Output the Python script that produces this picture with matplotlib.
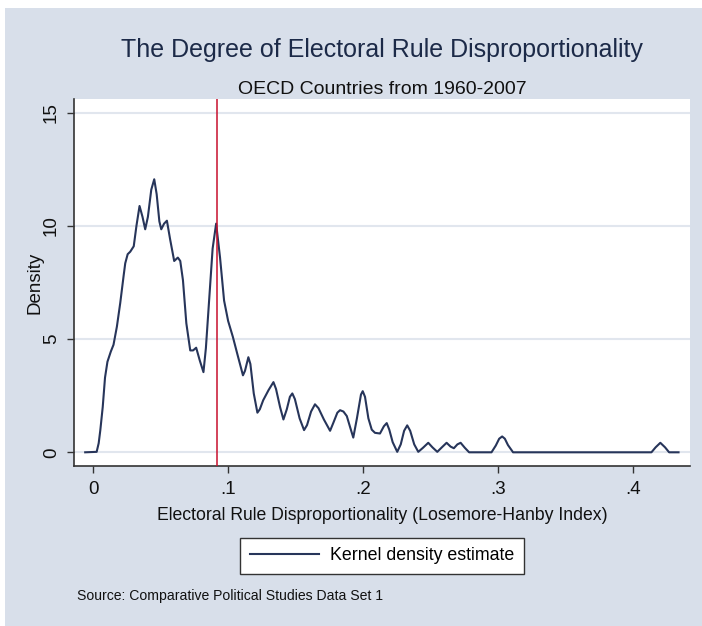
import numpy as np
import matplotlib.pyplot as plt
from matplotlib import font_manager
from matplotlib.patches import Rectangle

plt.rcParams['font.family'] = ['Liberation Sans', 'DejaVu Sans']

# kernel density of the Losemore-Hanby index
lh_index = [-0.0060, 0.0025, 0.0040, 0.0052, 0.0070, 0.0087, 0.0105, 0.0130,
            0.0150, 0.0175, 0.0200, 0.0225, 0.0237, 0.0255, 0.0274, 0.0300,
            0.0320, 0.0343, 0.0365, 0.0385, 0.0405, 0.0430, 0.0452, 0.0470,
            0.0490, 0.0504, 0.0525, 0.0546, 0.0570, 0.0600, 0.0627, 0.0645,
            0.0665, 0.0690, 0.0719, 0.0740, 0.0763, 0.0790, 0.0817, 0.0835,
            0.0860, 0.0885, 0.0911, 0.0940, 0.0970, 0.1000, 0.1035, 0.1070,
            0.1110, 0.1125, 0.1150, 0.1165, 0.1190, 0.1217, 0.1235, 0.1260,
            0.1300, 0.1336, 0.1355, 0.1385, 0.1410, 0.1435, 0.1458, 0.1476,
            0.1495, 0.1530, 0.1563, 0.1585, 0.1615, 0.1644, 0.1670, 0.1710,
            0.1756, 0.1780, 0.1810, 0.1830, 0.1855, 0.1880, 0.1905, 0.1928,
            0.1955, 0.1985, 0.1998, 0.2015, 0.2040, 0.2065, 0.2089, 0.2126,
            0.2155, 0.2176, 0.2195, 0.2220, 0.2254, 0.2280, 0.2305, 0.2328,
            0.2350, 0.2380, 0.2410, 0.2445, 0.2484, 0.2515, 0.2551, 0.2585,
            0.2620, 0.2650, 0.2674, 0.2700, 0.2724, 0.2755, 0.2787, 0.2953,
            0.2985, 0.3010, 0.3032, 0.3052, 0.3075, 0.3113, 0.4139, 0.4170,
            0.4205, 0.4240, 0.4270, 0.4340]
density = [0.00, 0.02, 0.40, 0.97, 2.00, 3.30, 4.00, 4.45,
           4.75, 5.55, 6.60, 7.80, 8.35, 8.75, 8.86, 9.10,
           10.00, 10.88, 10.40, 9.85, 10.40, 11.60, 12.06, 11.40,
           10.20, 9.85, 10.10, 10.23, 9.40, 8.45, 8.60, 8.45,
           7.60, 5.70, 4.50, 4.50, 4.62, 4.05, 3.54, 4.60,
           6.80, 9.00, 10.10, 8.60, 6.70, 5.80, 5.10, 4.30,
           3.40, 3.60, 4.20, 3.90, 2.60, 1.75, 1.90, 2.30,
           2.75, 3.10, 2.80, 2.00, 1.45, 1.90, 2.45, 2.60,
           2.35, 1.50, 0.98, 1.20, 1.80, 2.12, 1.95, 1.45,
           0.95, 1.30, 1.75, 1.86, 1.80, 1.60, 1.10, 0.65,
           1.50, 2.55, 2.70, 2.45, 1.50, 1.00, 0.86, 0.83,
           1.15, 1.29, 1.00, 0.45, 0.02, 0.35, 0.95, 1.19,
           0.95, 0.35, 0.02, 0.20, 0.42, 0.22, 0.02, 0.22,
           0.42, 0.25, 0.18, 0.35, 0.42, 0.20, 0.00, 0.00,
           0.30, 0.60, 0.70, 0.60, 0.32, 0.00, 0.00, 0.22,
           0.42, 0.22, 0.00, 0.00]

mean_lh = 0.092

x_ticks = [0, 0.1, 0.2, 0.3, 0.4]
x_ticklabels = ['0', '.1', '.2', '.3', '.4']
y_ticks = [0, 5, 10, 15]

# condensed face for the title when it is installed
narrow = 'Liberation Sans Narrow'
have_narrow = any(f.name == narrow for f in font_manager.fontManager.ttflist)
title_font = dict(family=[narrow, 'Liberation Sans'], fontsize=22) if have_narrow \
    else dict(fontsize=18)

W, H = 702, 626
fig = plt.figure(figsize=(W / 100, H / 100), dpi=100)
fig.patch.set_facecolor('white')
fig.add_artist(Rectangle((5 / W, 0), 1, 1 - 8 / H, transform=fig.transFigure,
                         facecolor='#d8dfea', edgecolor='none', zorder=-5))

ax = fig.add_axes([74 / W, 160 / H, 616 / W, 367 / H])
ax.set_facecolor('white')

ax.plot(lh_index, density, color='#27355a', lw=1.5, label='Kernel density estimate',
        solid_joinstyle='round', zorder=3)
ax.axvline(mean_lh, color='#c8102e', lw=1.1, zorder=4)

ax.set_xlim(-0.0143, 0.4425)
ax.set_ylim(-0.605, 15.605)
ax.set_xticks(x_ticks)
ax.set_xticklabels(x_ticklabels)
ax.set_yticks(y_ticks)
ax.grid(axis='y', color='#e1e6ee', lw=1.5)
ax.set_axisbelow(True)

for side in ['top', 'right']:
    ax.spines[side].set_visible(False)
for side in ['left', 'bottom']:
    ax.spines[side].set_color('#333333')
    ax.spines[side].set_linewidth(1.2)

ax.tick_params(axis='both', length=5, width=1, color='#333333', labelsize=13.5,
               labelcolor='#111111')
ax.tick_params(axis='x', pad=6)
ax.tick_params(axis='y', pad=5, labelrotation=90)
for lbl in ax.get_yticklabels():
    lbl.set_va('center')

ax.set_xlabel('Electoral Rule Disproportionality (Losemore-Hanby Index)',
              fontsize=12.7, color='#111111', va='center')
ax.xaxis.set_label_coords(0.5, -49 / 367)
ax.set_ylabel('Density', fontsize=13.5, color='#111111', va='center')
ax.yaxis.set_label_coords(-39 / 616, 0.5)

fig.text(382 / W, 1 - 57 / H, 'The Degree of Electoral Rule Disproportionality',
         ha='center', va='baseline', color='#1c2a48', **title_font)
fig.text(382 / W, 1 - 94 / H, 'OECD Countries from 1960-2007',
         ha='center', va='baseline', fontsize=14, color='#111111')

leg = ax.legend(loc='center', bbox_to_anchor=(382 / W, 1 - 556 / H),
                bbox_transform=fig.transFigure, fontsize=12.8, frameon=True,
                fancybox=False, handlelength=3.9, handletextpad=0.6,
                borderpad=0.55)
leg.get_frame().set_edgecolor('#333333')
leg.get_frame().set_linewidth(1.0)
leg.get_frame().set_facecolor('white')
leg.get_frame().set_alpha(1)

fig.text(77 / W, 1 - 596 / H, 'Source: Comparative Political Studies Data Set 1',
         ha='left', va='center', fontsize=10.1, color='#111111')

fig.savefig('out.png', dpi=100, facecolor=fig.get_facecolor())
